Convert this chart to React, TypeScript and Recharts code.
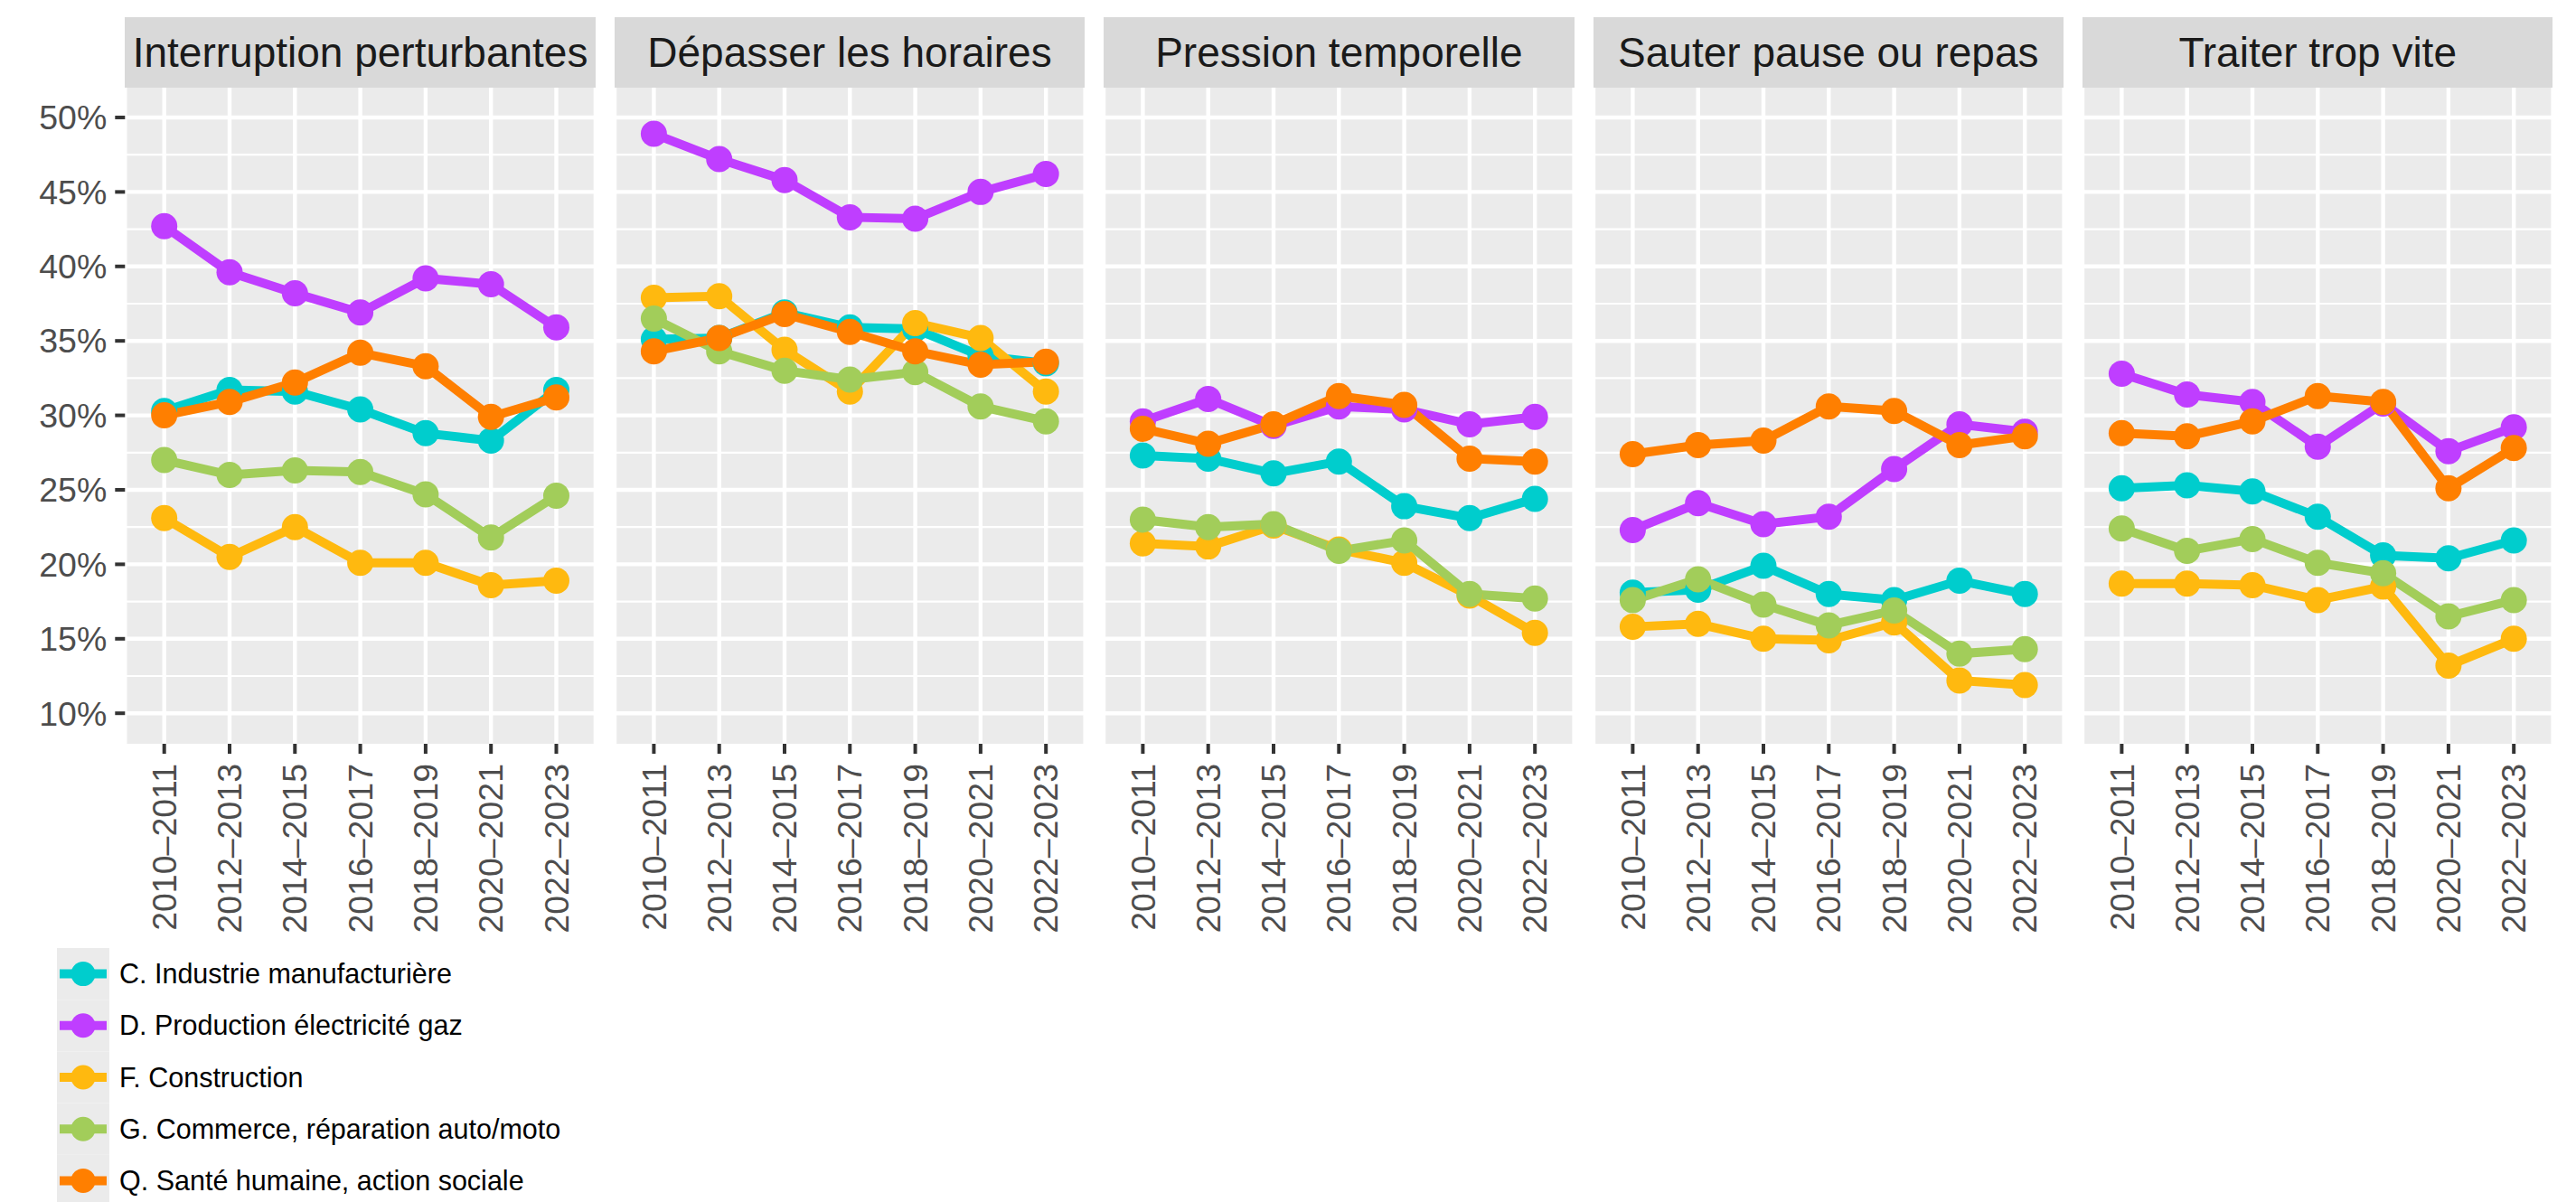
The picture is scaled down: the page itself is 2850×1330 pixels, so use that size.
import { LineChart, Line, XAxis, YAxis, CartesianGrid } from "recharts";

const FONT = "'Liberation Sans', Arial, sans-serif";

export const periods = [
  "2010–2011",
  "2012–2013",
  "2014–2015",
  "2016–2017",
  "2018–2019",
  "2020–2021",
  "2022–2023",
];

export const facets = [
  "Interruption perturbantes",
  "Dépasser les horaires",
  "Pression temporelle",
  "Sauter pause ou repas",
  "Traiter trop vite",
];

// one row per facet, one value per period (%)
const industrie = [
  [30.3, 31.7, 31.6, 30.4, 28.8, 28.3, 31.7],
  [35.1, 35.2, 36.9, 35.9, 35.8, 34.0, 33.5],
  [27.3, 27.1, 26.1, 26.9, 23.9, 23.1, 24.4],
  [18.1, 18.3, 19.9, 18.0, 17.6, 18.9, 18.0],
  [25.1, 25.3, 24.9, 23.2, 20.6, 20.4, 21.6],
];
const electricite = [
  [42.7, 39.6, 38.2, 36.9, 39.2, 38.8, 35.9],
  [48.9, 47.2, 45.8, 43.3, 43.2, 45.0, 46.2],
  [29.6, 31.1, 29.3, 30.6, 30.4, 29.4, 29.9],
  [22.3, 24.1, 22.7, 23.2, 26.4, 29.4, 28.9],
  [32.8, 31.4, 30.9, 27.9, 30.8, 27.6, 29.2],
];
const construction = [
  [23.1, 20.5, 22.5, 20.1, 20.1, 18.6, 18.9],
  [37.9, 38.0, 34.4, 31.6, 36.2, 35.2, 31.6],
  [21.4, 21.2, 22.6, 21.0, 20.1, 17.9, 15.4],
  [15.8, 16.0, 15.0, 14.9, 16.1, 12.2, 11.9],
  [18.7, 18.7, 18.6, 17.6, 18.5, 13.2, 15.0],
];
const commerce = [
  [27.0, 26.0, 26.3, 26.2, 24.7, 21.8, 24.6],
  [36.5, 34.3, 33.0, 32.4, 32.9, 30.6, 29.6],
  [23.0, 22.5, 22.7, 20.9, 21.6, 18.0, 17.7],
  [17.6, 19.0, 17.3, 15.9, 16.9, 14.0, 14.3],
  [22.4, 20.9, 21.7, 20.1, 19.4, 16.5, 17.6],
];
const sante = [
  [30.0, 30.9, 32.2, 34.2, 33.3, 29.9, 31.2],
  [34.3, 35.2, 36.8, 35.6, 34.3, 33.4, 33.6],
  [29.1, 28.1, 29.4, 31.3, 30.7, 27.1, 26.9],
  [27.4, 28.0, 28.3, 30.6, 30.3, 28.0, 28.6],
  [28.8, 28.6, 29.6, 31.3, 30.9, 25.1, 27.8],
];

const yTicks = [10, 15, 20, 25, 30, 35, 40, 45, 50];
const yMinor = [12.5, 17.5, 22.5, 27.5, 32.5, 37.5, 42.5, 47.5];

const series = [
  { key: "C", name: "C. Industrie manufacturière", color: "#00CDCD", values: industrie },
  { key: "D", name: "D. Production électricité gaz", color: "#BF3EFF", values: electricite },
  { key: "F", name: "F. Construction", color: "#FFB90F", values: construction },
  { key: "G", name: "G. Commerce, réparation auto/moto", color: "#A2CD5A", values: commerce },
  { key: "Q", name: "Q. Santé humaine, action sociale", color: "#FF7F00", values: sante },
];

const rowsFor = (f: number) =>
  periods.map((p, i) => {
    const row: Record<string, string | number> = { period: p };
    series.forEach((s) => (row[s.key] = s.values[f][i]));
    return row;
  });

// layout (px)
const Y_AXIS_W = 138.3;
const PANEL_W = 520.6;
const PANEL_STEP = 541.4;
const STRIP_TOP = 19;
const PLOT_TOP = 97;
const PLOT_H = 726;
const X_AXIS_H = 240;

const PeriodTick = (props: any) => {
  const { x, y, payload } = props;
  return (
    <text
      x={x}
      y={y}
      dy="0.35em"
      transform={`rotate(-90, ${x}, ${y})`}
      textAnchor="end"
      fill="#4D4D4D"
      fontSize={37.5}
      fontFamily={FONT}
    >
      {payload.value}
    </text>
  );
};

const Panel = ({ f }: { f: number }) => {
  const first = f === 0;
  const left = first ? 0 : Y_AXIS_W + f * PANEL_STEP;
  const width = first ? Y_AXIS_W + PANEL_W : PANEL_W;
  return (
    <div style={{ position: "absolute", left, top: 0 }}>
      <LineChart
        width={width}
        height={PLOT_TOP + PLOT_H + X_AXIS_H}
        data={rowsFor(f)}
        margin={{ top: PLOT_TOP, right: 0, bottom: 0, left: 0 }}
      >
        <CartesianGrid
          horizontalValues={yMinor}
          vertical={false}
          fill="#EBEBEB"
          stroke="#FFFFFF"
          strokeWidth={2.2}
        />
        <CartesianGrid horizontalValues={yTicks} stroke="#FFFFFF" strokeWidth={4.4} />
        <XAxis
          dataKey="period"
          interval={0}
          height={X_AXIS_H}
          padding={{ left: 43.4, right: 43.4 }}
          axisLine={false}
          tickLine={{ stroke: "#333333", strokeWidth: 4 }}
          tickSize={11}
          tickMargin={11}
          tick={<PeriodTick />}
        />
        <YAxis
          hide={!first}
          width={Y_AXIS_W}
          type="number"
          domain={[7.95, 52]}
          allowDataOverflow
          ticks={yTicks}
          tickFormatter={(v: number) => `${v}%`}
          axisLine={false}
          tickLine={{ stroke: "#333333", strokeWidth: 4 }}
          tickSize={11}
          tickMargin={9}
          tick={{ fill: "#4D4D4D", fontSize: 37.5, fontFamily: FONT }}
        />
        {series.map((s) => (
          <Line
            key={s.key}
            type="linear"
            dataKey={s.key}
            name={s.name}
            stroke={s.color}
            strokeWidth={10}
            dot={{ r: 14.5, fill: s.color, stroke: "none", strokeWidth: 0 }}
            activeDot={false}
            isAnimationActive={false}
          />
        ))}
      </LineChart>
      <div
        style={{
          position: "absolute",
          left: first ? Y_AXIS_W : 0,
          top: STRIP_TOP,
          width: PANEL_W,
          height: PLOT_TOP - STRIP_TOP,
          background: "#D9D9D9",
          color: "#1A1A1A",
          fontSize: 46,
          lineHeight: `${PLOT_TOP - STRIP_TOP}px`,
          textAlign: "center",
          whiteSpace: "nowrap",
        }}
      >
        {facets[f]}
      </div>
    </div>
  );
};

const KeyLegend = () => {
  const itemH = 57.2;
  const top0 = 1048.5;
  return (
    <svg
      width={700}
      height={1330 - top0}
      style={{ position: "absolute", left: 0, top: top0 }}
    >
      {series.map((s, i) => {
        const cy = i * itemH + itemH / 2;
        return (
          <g key={s.key}>
            <rect x={63} y={i * itemH} width={58} height={itemH} fill="#EBEBEB" />
            <line x1={66} x2={118} y1={cy} y2={cy} stroke={s.color} strokeWidth={10} />
            <circle cx={92} cy={cy} r={13.5} fill={s.color} />
            <text
              x={132}
              y={cy}
              dy="0.35em"
              fontSize={30.5}
              fontFamily={FONT}
              fill="#000000"
            >
              {s.name}
            </text>
          </g>
        );
      })}
    </svg>
  );
};

export default function App() {
  return (
    <div
      style={{
        position: "absolute",
        left: 0,
        top: 0,
        width: 2850,
        height: 1330,
        background: "#FFFFFF",
        fontFamily: FONT,
        overflow: "hidden",
      }}
    >
      {facets.map((_, f) => (
        <Panel key={f} f={f} />
      ))}
      <KeyLegend />
    </div>
  );
}
